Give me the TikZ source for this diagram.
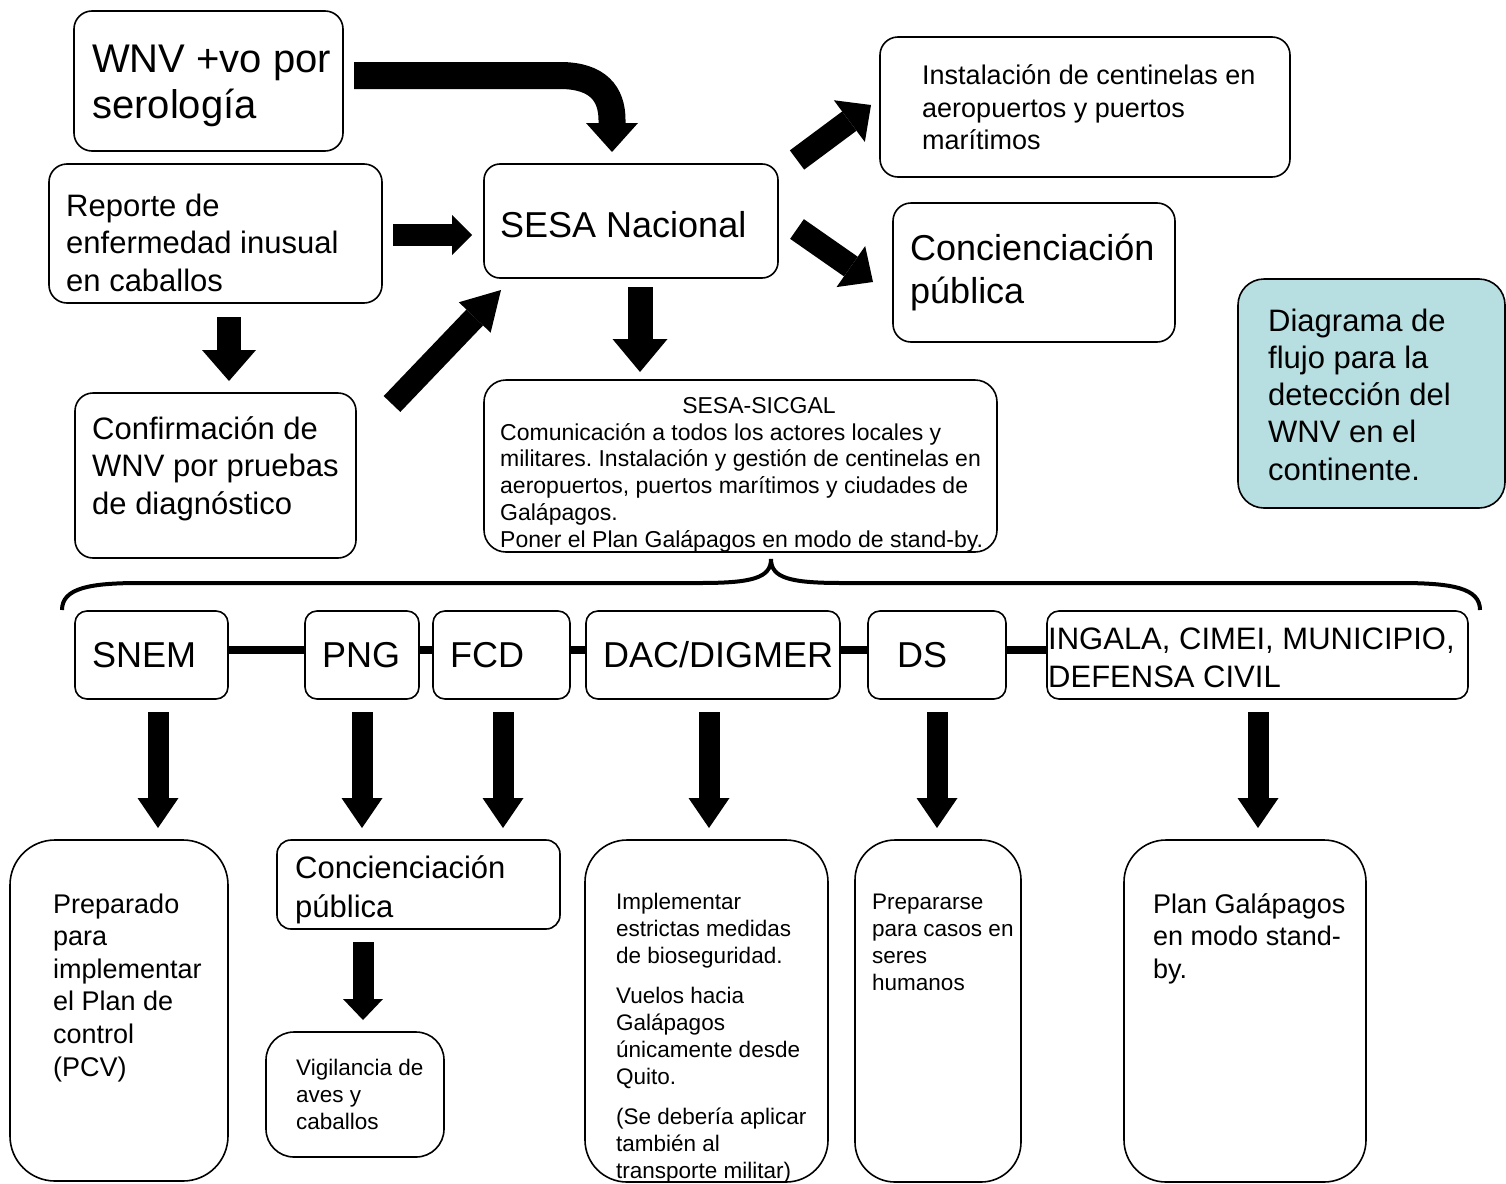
\documentclass[tikz,border=0pt]{standalone}
\usepackage{fontspec}
\setmainfont{Liberation Sans}
\usetikzlibrary{arrows.meta}
\definecolor{diagfill}{RGB}{183,222,224}
\newcommand\fs[2]{\fontsize{#1pt}{#2pt}\selectfont}
\frenchspacing
\begin{document}
\begin{tikzpicture}[x=1pt,y=-1pt,
  box/.style={draw, line width=1.6pt, rounded corners=#1, inner sep=0pt, outer sep=0pt},
  box/.default=18pt,
  txt/.style={inner sep=0pt, anchor=base west},
  blk/.style n args={3}{line width=#1pt, -{Triangle[width=#2pt,length=#3pt,line width=0pt]}},
  conn/.style={line width=8pt},
  brace/.style={line width=4pt}]
\useasboundingbox (0,0) rectangle (1506,1183);

% ---------- boxes ----------
\node[box, minimum width=269pt, minimum height=140pt] (wnv) at (208.5,81) {};
\node[box, minimum width=333pt, minimum height=139pt] (rep) at (215.5,233.5) {};
\node[box, minimum width=281pt, minimum height=165pt] (conf) at (215.5,475.5) {};
\node[box=16pt, minimum width=294pt, minimum height=114pt] (sesa) at (631,221) {};
\node[box, minimum width=410pt, minimum height=140pt] (inst) at (1085,107) {};
\node[box, minimum width=282pt, minimum height=139pt] (conc1) at (1034,272.5) {};
\node[box=26pt, fill=diagfill, minimum width=267pt, minimum height=229pt] (diag) at (1371.5,393.5) {};
\node[box=22pt, minimum width=513pt, minimum height=172pt] (sic) at (740.5,466) {};

\node[box=12pt, minimum width=153pt, minimum height=88pt] (snem) at (151.5,655) {};
\node[box=12pt, minimum width=114pt, minimum height=88pt] (png) at (362,655) {};
\node[box=12pt, minimum width=137pt, minimum height=88pt] (fcd) at (501.5,655) {};
\node[box=12pt, minimum width=254pt, minimum height=88pt] (dac) at (713,655) {};
\node[box=12pt, minimum width=138pt, minimum height=88pt] (ds) at (937,655) {};
\node[box=12pt, minimum width=421pt, minimum height=88pt] (ing) at (1257.5,655) {};

\node[box=45pt, minimum width=218pt, minimum height=341pt] (prep) at (119,1010.5) {};
\node[box=14pt, minimum width=283pt, minimum height=89pt] (conc2) at (418.5,884.5) {};
\node[box=28pt, minimum width=178pt, minimum height=125pt] (vig) at (355,1094.5) {};
\node[box=42pt, minimum width=243pt, minimum height=342pt] (dacb) at (706.5,1011) {};
\node[box=40pt, minimum width=166pt, minimum height=342pt] (dsb) at (938,1011) {};
\node[box=42pt, minimum width=242pt, minimum height=342pt] (plan) at (1245,1011) {};

% ---------- texts ----------
\node[txt] (wnvT) at (92,72) {\parbox[t]{400pt}{\fs{40}{46}WNV +vo por\\serología}};
\node[txt] (repT) at (66,216) {\parbox[t]{400pt}{\fs{31}{37.5}Reporte de\\enfermedad inusual\\en caballos}};
\node[txt] (confT) at (92,439) {\parbox[t]{400pt}{\fs{31}{37.5}Confirmación de\\WNV por pruebas\\de diagnóstico}};
\node[txt] (sesaT) at (500,237) {\fs{36}{43}SESA Nacional};
\node[txt] (instT) at (922,84.5) {\parbox[t]{500pt}{\fs{27}{32.5}Instalación de centinelas en\\aeropuertos y puertos\\marítimos}};
\node[txt] (conc1T) at (910,260) {\parbox[t]{400pt}{\fs{36}{43}Concienciación\\pública}};
\node[txt] (diagT) at (1268,331) {\parbox[t]{300pt}{\fs{31}{37.3}Diagrama de\\flujo para la\\detección del\\WNV en el\\continente.}};
\node[inner sep=0pt, anchor=base] (sicT1) at (759,413) {\fs{23}{26.8}SESA-SICGAL};
\node[txt] (sicT2) at (500,440) {\parbox[t]{600pt}{\fs{23}{26.8}Comunicación a todos los actores locales y\\militares. Instalación y gestión de centinelas en\\aeropuertos, puertos marítimos y ciudades de\\Galápagos.\\Poner el Plan Galápagos en modo de stand-by.}};

\node[txt] (snemT) at (92,667) {\fs{36}{43}SNEM};
\node[txt] (pngT) at (322,667) {\fs{36}{43}PNG};
\node[txt] (fcdT) at (450,667) {\fs{36}{43}FCD};
\node[txt] (dacT) at (603,667) {\fs{36}{43}DAC/DIGMER};
\node[txt] (dsT) at (897,667) {\fs{36}{43}DS};
\node[txt] (ingT) at (1048,649) {\parbox[t]{500pt}{\fs{31}{38}INGALA, CIMEI, MUNICIPIO,\\DEFENSA CIVIL}};

\node[txt] (prepT) at (53,913) {\parbox[t]{300pt}{\fs{27}{32.6}Preparado\\para\\implementar\\el Plan de\\control\\(PCV)}};
\node[txt] (conc2T) at (295,878) {\parbox[t]{300pt}{\fs{31}{39}Concienciación\\pública}};
\node[txt] (vigT) at (296,1075) {\parbox[t]{300pt}{\fs{22.5}{27}Vigilancia de\\aves y\\caballos}};
\node[txt] (dacbT) at (616,909) {\parbox[t]{300pt}{\fs{22.5}{27}Implementar\\estrictas medidas\\de bioseguridad.\\[13pt]Vuelos hacia\\Galápagos\\únicamente desde\\Quito.\\[13pt](Se debería aplicar\\también al\\transporte militar)}};
\node[txt] (dsbT) at (872,909) {\parbox[t]{300pt}{\fs{22.5}{27}Prepararse\\para casos en\\seres\\humanos}};
\node[txt] (planT) at (1153,913) {\parbox[t]{300pt}{\fs{27}{32.5}Plan Galápagos\\en modo stand-\\by.}};

% ---------- block arrows ----------
\coordinate (a1s) at (354,75.5); \coordinate (a1e) at (612,152);
\draw[blk={27}{52}{29}] (a1s) -- (560,75.5) .. controls (598,75.5) and (612,94) .. (612,120) -- (a1e);
\coordinate (a2s) at (393,235); \coordinate (a2e) at (472,235);
\draw[blk={22}{40}{20}] (a2s) -- (a2e);
\coordinate (a3s) at (229,317); \coordinate (a3e) at (229,381);
\draw[blk={24}{54}{31}] (a3s) -- (a3e);
\coordinate (a4s) at (392,404); \coordinate (a4e) at (501,290);
\draw[blk={23}{44}{38}] (a4s) -- (a4e);
\coordinate (a5s) at (797,160); \coordinate (a5e) at (871,105);
\draw[blk={24}{52}{27}] (a5s) -- (a5e);
\coordinate (a6s) at (797,229); \coordinate (a6e) at (873,282);
\draw[blk={24}{50}{27}] (a6s) -- (a6e);
\coordinate (a7s) at (640,287); \coordinate (a7e) at (640,372);
\draw[blk={25}{55}{33}] (a7s) -- (a7e);
\foreach \n/\xx in {snem/158, png/362, fcd/503, dac/709, ds/937, ing/1258}{
  \coordinate (\n S) at (\xx,712); \coordinate (\n E) at (\xx,828);
  \draw[blk={21}{41}{30}] (\n S) -- (\n E);
}
\coordinate (a8s) at (363,942); \coordinate (a8e) at (363,1020);
\draw[blk={21}{40}{21}] (a8s) -- (a8e);

% ---------- connectors between agencies ----------
\draw[conn] ([yshift=5pt]snem.east) -- ([yshift=5pt]png.west);
\draw[conn] ([yshift=5pt]png.east) -- ([yshift=5pt]fcd.west);
\draw[conn] ([yshift=5pt]fcd.east) -- ([yshift=5pt]dac.west);
\draw[conn] ([yshift=5pt]dac.east) -- ([yshift=5pt]ds.west);
\draw[conn] ([yshift=5pt]ds.east) -- ([yshift=5pt]ing.west);

% ---------- brace ----------
\coordinate (bl) at (62,610); \coordinate (bt) at (771,559); \coordinate (br) at (1480,610);
\draw[brace] (bl) .. controls (62,588) and (90,583) .. (140,583) -- (700,583)
  .. controls (752,583) and (771,578) .. (bt)
  .. controls (771,578) and (790,583) .. (842,583) -- (1400,583)
  .. controls (1452,583) and (1480,588) .. (br);
\end{tikzpicture}
\end{document}
